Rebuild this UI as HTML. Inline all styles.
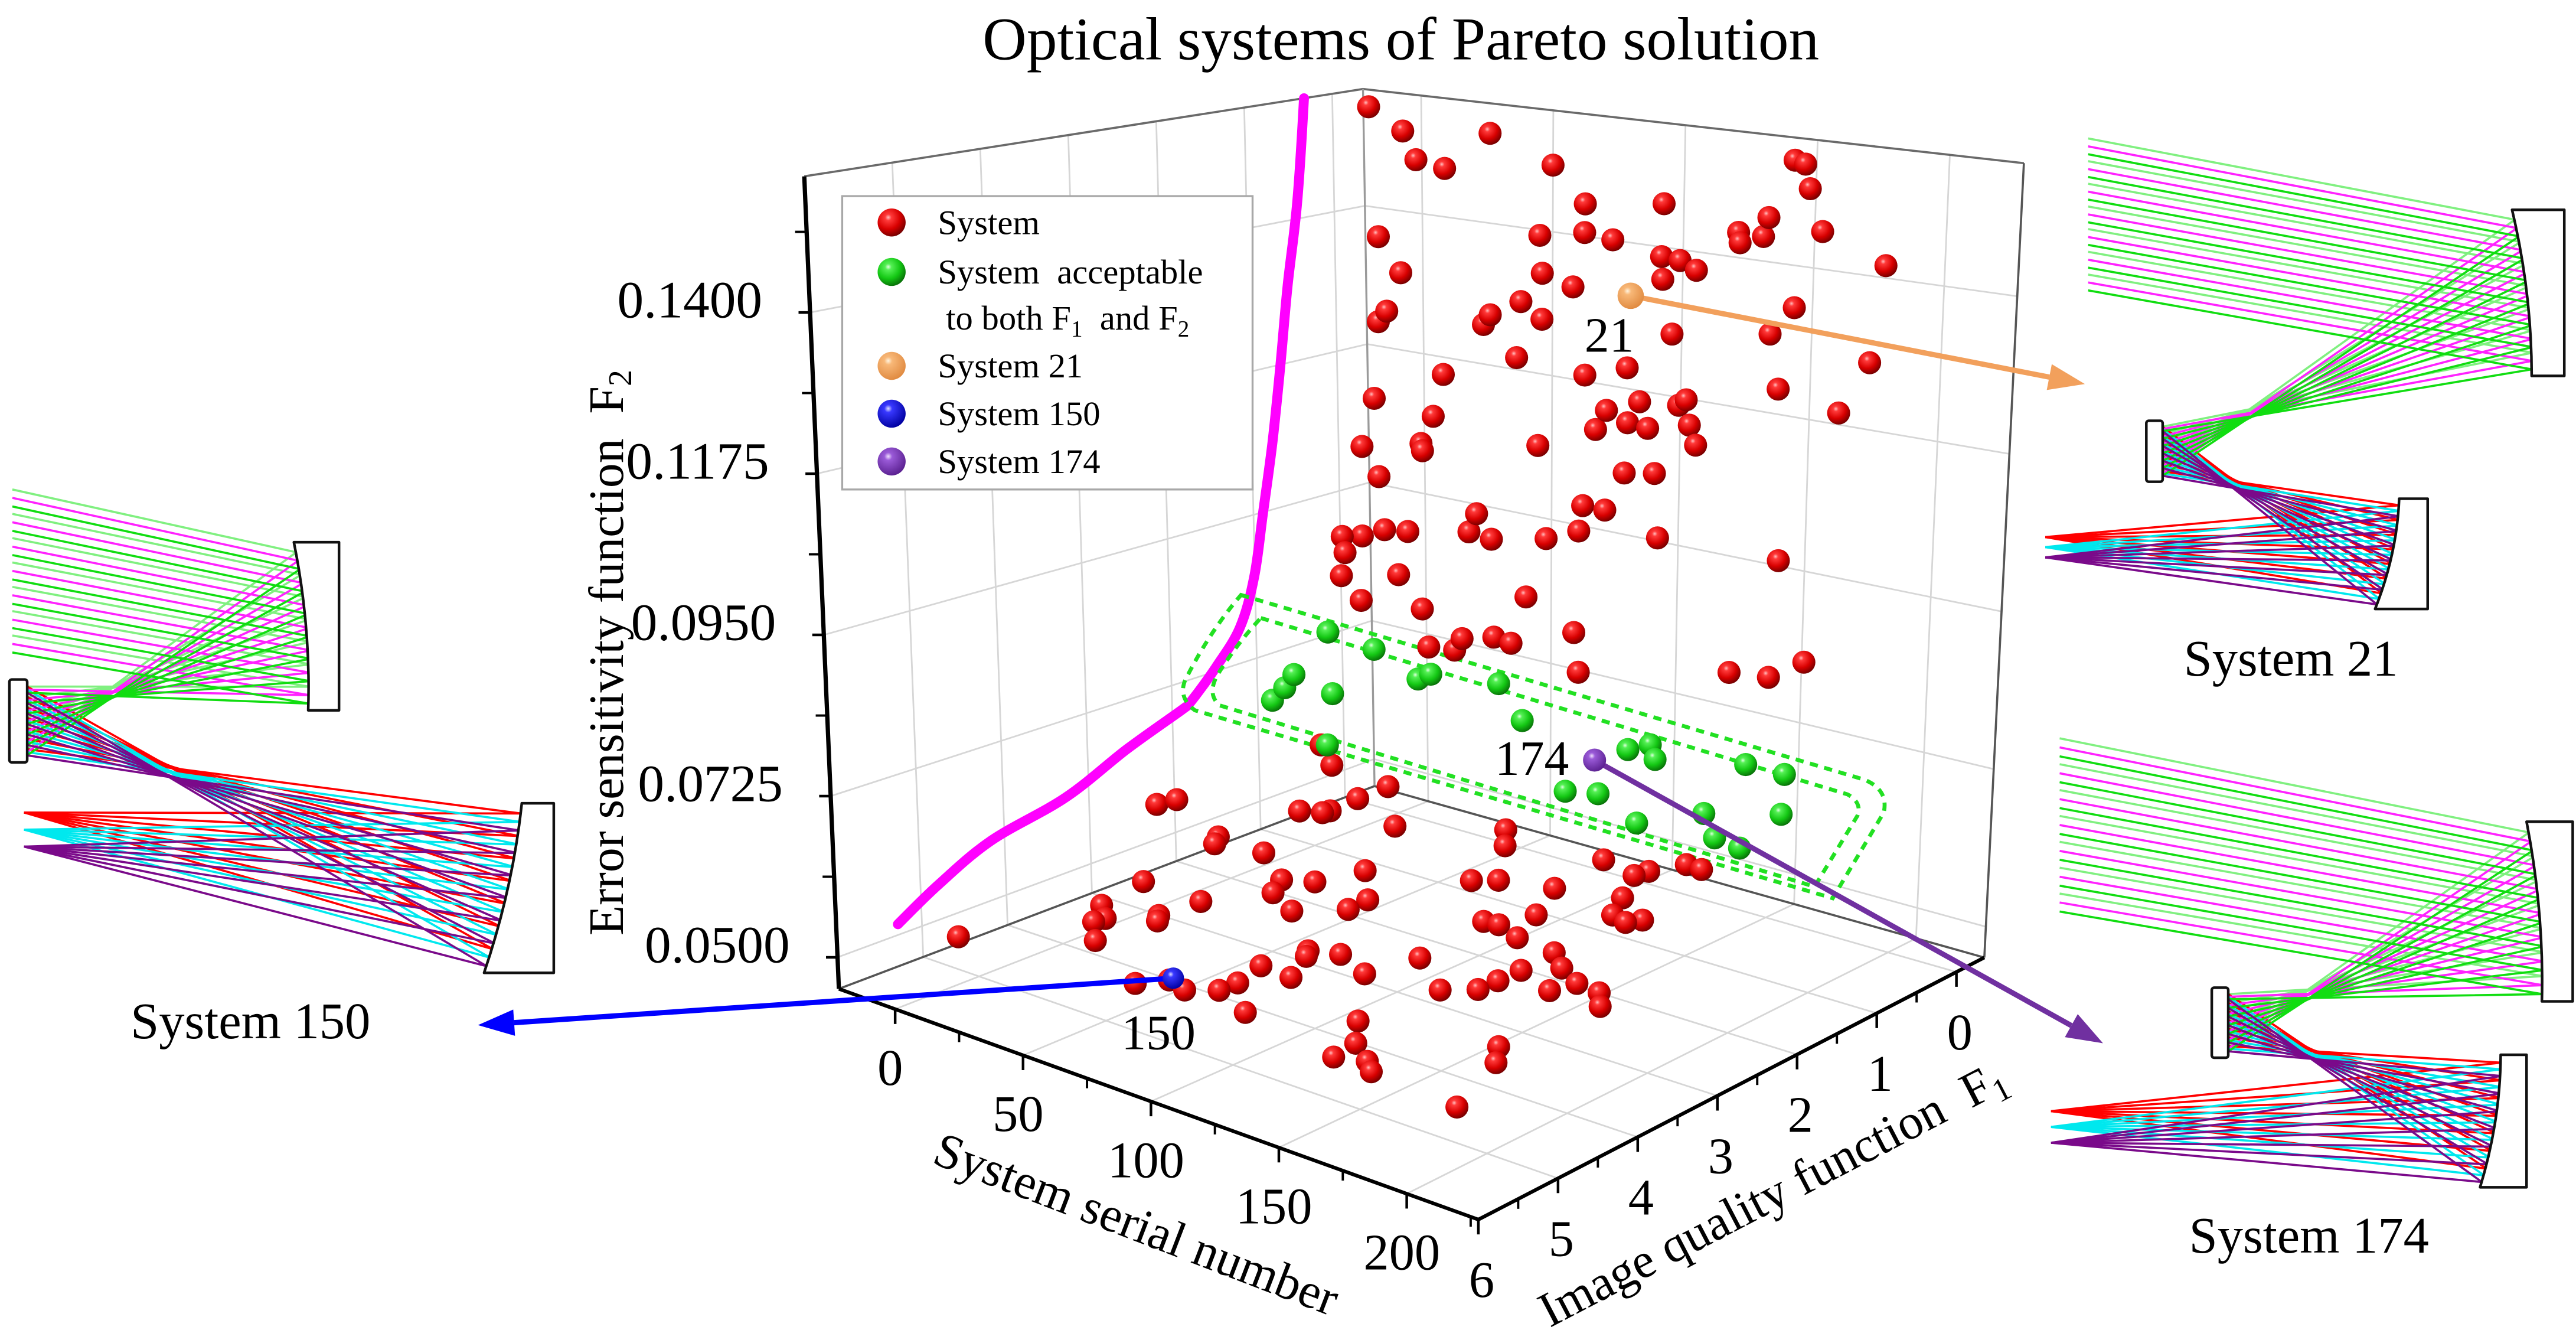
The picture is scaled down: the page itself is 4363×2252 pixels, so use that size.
<!DOCTYPE html>
<html lang="en">
<head>
<meta charset="utf-8">
<title>Optical systems of Pareto solution</title>
<style>
  html,body{margin:0;padding:0;background:#ffffff;}
  svg{display:block;}
  text{font-family:"Liberation Serif","Times New Roman",serif;fill:#000;}
</style>
</head>
<body>
<svg id="fig" xmlns="http://www.w3.org/2000/svg" width="4363" height="2252" viewBox="0 0 1563 807" preserveAspectRatio="none">
  <defs>
    <radialGradient id="gRed" cx="38%" cy="32%" r="70%">
      <stop offset="0" stop-color="#ffc0c0"/>
      <stop offset="0.16" stop-color="#ff3a3a"/>
      <stop offset="0.6" stop-color="#d80000"/>
      <stop offset="1" stop-color="#740000"/>
    </radialGradient>
    <radialGradient id="gGreen" cx="38%" cy="32%" r="70%">
      <stop offset="0" stop-color="#e0ffe0"/>
      <stop offset="0.16" stop-color="#55f055"/>
      <stop offset="0.6" stop-color="#14c814"/>
      <stop offset="1" stop-color="#087008"/>
    </radialGradient>
    <radialGradient id="gOrange" cx="38%" cy="32%" r="70%">
      <stop offset="0" stop-color="#fff4e0"/>
      <stop offset="0.2" stop-color="#f8b878"/>
      <stop offset="1" stop-color="#e08a40"/>
    </radialGradient>
    <radialGradient id="gBlue" cx="38%" cy="32%" r="70%">
      <stop offset="0" stop-color="#e0e0ff"/>
      <stop offset="0.2" stop-color="#3838ff"/>
      <stop offset="1" stop-color="#0000a0"/>
    </radialGradient>
    <radialGradient id="gPurple" cx="38%" cy="32%" r="70%">
      <stop offset="0" stop-color="#f0e0ff"/>
      <stop offset="0.2" stop-color="#9a5ad8"/>
      <stop offset="1" stop-color="#5a2090"/>
    </radialGradient>
  </defs>

  <text x="850" y="36" font-size="37" text-anchor="middle">Optical systems of Pareto solution</text>

  <g id="optics"></g>
  <g id="grid"></g>
  <g id="box"></g>
  <g id="axes"></g>
  <g id="curve"></g>
  <g id="annot">
    <path d="M753,361 L1131,473 Q1146,479 1143,493 L1112,545 L725,431 Q713,422 721,409 Q735,382 753,361 Z" fill="none" stroke="#22e022" stroke-width="2.4" stroke-dasharray="5,4"/>
    <path d="M765,375 L1121,482 Q1130,487 1127,495 L1101,538 L740,428 Q732,421 739,409 Q751,390 765,375 Z" fill="none" stroke="#22e022" stroke-width="2.4" stroke-dasharray="5,4"/>
  </g>
  <g id="points"></g>
  <g id="arrows"></g>

  <g id="legend">
    <rect x="511" y="119" width="249" height="178" fill="#ffffff" stroke="#a8a8a8" stroke-width="1.2"/>
    <g>
      <circle cx="541" cy="135" r="8.5" fill="url(#gRed)"/>
      <text x="569" y="142" font-size="21">System</text>
    </g>
    <g>
      <circle cx="541" cy="165" r="8.5" fill="url(#gGreen)"/>
      <text x="569" y="172" font-size="21" xml:space="preserve">System  acceptable</text>
      <text x="574" y="200" font-size="21" xml:space="preserve">to both F<tspan font-size="14" dy="4">1</tspan><tspan dy="-4" xml:space="preserve">  and F</tspan><tspan font-size="14" dy="4">2</tspan></text>
    </g>
    <g>
      <circle cx="541" cy="222" r="8.5" fill="url(#gOrange)"/>
      <text x="569" y="229" font-size="21">System 21</text>
    </g>
    <g>
      <circle cx="541" cy="251" r="8.5" fill="url(#gBlue)"/>
      <text x="569" y="258" font-size="21">System 150</text>
    </g>
    <g>
      <circle cx="541" cy="280" r="8.5" fill="url(#gPurple)"/>
      <text x="569" y="287" font-size="21">System 174</text>
    </g>
  </g>

  <text x="152" y="630" font-size="31" text-anchor="middle">System 150</text>
  <text x="1390" y="410" font-size="31" text-anchor="middle">System 21</text>
  <text x="1401" y="760" font-size="31" text-anchor="middle">System 174</text>
</svg>

<script>
// ---------------- chart data ----------------
const serialTicks = [0, 50, 100, 150, 200];
const serialTickLabels = ['0', '50', '100', '150', '200'];
const f1Ticks = [0, 1, 2, 3, 4, 5, 6];
const f1TickLabels = ['0', '1', '2', '3', '4', '5', '6'];
const f2Ticks = [0.05, 0.0725, 0.095, 0.1175, 0.14];
const f2TickLabels = ['0.0500', '0.0725', '0.0950', '0.1175', '0.1400'];

// Red systems: serial number, F1 (image quality), F2 (error sensitivity)
const redSerial = [
 -8.3,4.5,37.6,9.4,20.3,61.5,153,157,159,73.9,103.8,-5.3,56.6,73.7,84.5,132.3,133,143.7,141.8,164.2,
 188.7,3.2,57.6,69.4,103.2,110.3,116.6,103.8,-2.4,-5.7,37.6,35,49.4,57.6,154.3,107.7,145.3,183.8,47.8,19.3,
 74.3,90.6,149,-7.7,15.3,82.8,95.6,113.6,110.7,78.6,91,98.9,115,117.6,172.6,-12.8,10.4,11,56.2,-6.3,
 90,101.8,73.9,82.6,32.1,29.1,-4.3,-13.2,4.9,38,59.6,72.4,103.4,151,1,-14.1,10.4,51.7,70.8,26.2,
 38.9,45.8,12.8,23.2,72.7,132.7,148.4,162.2,12.8,13.8,12.3,
 -8.7,5,13,-9.9,-6.6,9.7,-0.4,4.0,11.5,12.1,22.1,22.0,24.8,23.4,10,21,-1.5,-1.2,-7.0,-0.1,
 -0.8,24.1,29.3,34.6,38,43.1,49.1,61,60.2,53.6,59.2,67.8,75.5,75.7,92.7,71.8,84.7,74.4,77,83.7,
 99.5,103.8,125.3,133.9,134,134.1,132.7,142.6,151.4,154.2,164.4,171.6,122.3,133,134.9,144.6,150.6,167.6,174.9,187.2,
 73.6,79.8,97.8,99.1,104.5,108,115.9,52.5,61.7,93.7,119.7,126.6,133.8,136.7,110.1,111.4,117,123.5
];
const redF1 = [
 0,0,0,0,0,0,0,0,0,0,0,0,0,0,0,0,0,0,0,0,
 0,0,0,0,0,0,0,0,0,0,0,0,0,0,0,0,0,0,0,0,
 0,0,0,0,0,0,0,0,0,0,0,0,0,0,0,0,0,0,0,0,
 0,0,0,0,0,0,0,0,0,0,0,0,0,0,0,0,0,0,0,0,
 0,0,0,0,0,0,0,0,1,1,1,
 4.97,3.0,3.0,1.85,1.99,1.89,3.02,3.65,3.97,3.85,4.27,3.51,3.61,3.05,1.2,1.4,0.08,0.45,0.97,0.81,
 0.88,0.75,2.26,2.52,2.12,1.67,2.73,2.41,2.15,4.75,4.51,4.59,4.41,4.19,4.62,3.79,3.82,3.30,3.40,3.19,
 3.38,2.84,3.25,3.05,2.81,2.53,2.08,2.29,2.71,2.46,2.50,2.71,4.16,4.52,4.85,4.74,4.88,3.84,4.10,4.97,
 1.30,1.16,1.02,1.92,1.90,1.55,2.02,0.26,0.54,0.30,0.85,1.18,1.24,1.12,0.42,0.28,-0.01,0.00
];
const redF2 = [
 .1576,.1544,.1557,.1501,.1493,.1520,.1572,.1568,.1533,.1467,.1483,.1370,.1409,.1423,.1418,.1455,.1440,.1483,.1454,.1473,
 .1436,.1318,.1351,.1337,.1403,.1401,.1390,.1369,.1253,.1234,.1274,.1257,.1302,.1280,.1356,.1289,.1312,.1293,.1214,.1168,
 .1205,.1227,.1233,.1110,.1099,.1157,.1179,.1194,.1184,.1125,.1144,.1141,.1157,.1129,.1213,.1029,.1052,.1041,.1084,.0986,
 .1067,.1075,.1005,.1005,.0959,.0928,.0903,.0885,.0908,.0924,.0943,.0965,.0979,.0982,.0836,.0781,.0790,.0846,.0808,.0758,
 .0772,.0769,.0732,.0737,.0749,.0802,.0808,.0842,.0947,.0923,.0886,
 .05,.0619,.0635,.05,.05,.05,.05,.05,.05,.05,.05,.05,.05,.05,.0632,.0622,.05,.05,.05,.05,
 .05,.05,.05,.05,.05,.05,.05,.05,.05,.05,.05,.05,.05,.05,.05,.05,.05,.05,.05,.05,
 .05,.05,.05,.05,.05,.05,.05,.05,.05,.05,.05,.05,.05,.05,.05,.05,.05,.05,.05,.05,
 .05,.05,.05,.05,.05,.05,.05,.05,.05,.05,.05,.05,.05,.05,.05,.05,.05,.05
];

// Green systems: acceptable to both F1 and F2
const greenSerial = [23.5,41.7,9.8,6,1.1,25,59,64,90.8,100.2,142,150.8,152.8,117.5,130.5,188.5,203.8,203,172.5,146,177,187,22.7];
const greenF1 = [1.5,1.5,1.5,1.5,1.5,1.5,1.5,1.5,1.5,1.5,1.5,1.5,1.5,1.5,1.5,1.5,1.5,1.5,1.5,1.5,1.5,1.5,1.5];
const greenF2 = [.0831,.0822,.0753,.0729,.0705,.0739,.0794,.0806,.0817,.0772,.0769,.0784,.0765,.0686,.0695,.0790,.0790,.0734,.0707,.0668,.0677,.0672,.0659];

// Highlighted systems
const specialNames = ['System 21', 'System 150', 'System 174'];
const specialLabels = ['21', '150', '174'];
const specialSerial = [91.6, 59.1, 174];
const specialF1 = [0, 4.46, 2.9];
const specialF2 = [.1337, .05, .0848];

// Pareto front projected on the serial-number wall (F1 vs F2)
const frontF1 = [0.32,0.42,0.55,0.65,0.76,0.89,1.01,1.19,1.48,1.78,1.89,2.55,3.27,4.16,4.79,5.28];
const frontF2 = [.1590,.1427,.1298,.1177,.1058,.0948,.0852,.0780,.0731,.0691,.0683,.0651,.0611,.0586,.0550,.0515];

// ---------------- axis functions ----------------
const S0 = -22, S1 = 228, FA = -0.35, FB = 6, Z0 = 0.0456, Z1 = 0.159;
const cB = [834, 477], cR = [1204, 581], cL = [509, 600], cF = [897, 740];
const oB = [-7, -423], oR = [24, -482], oL = [-21, -493], oF = [3, -553];
function bil(a, b, c, d, u, v) { return a*(1-u)*(1-v) + b*u*(1-v) + c*(1-u)*v + d*u*v; }
function proj(s, f, z) {
  const u = (s - S0) / (S1 - S0);
  const v = (f - FA) / (FB - FA);
  const w = (z - Z0) / (Z1 - Z0);
  const x = bil(cB[0], cR[0], cL[0], cF[0], u, v) + w * bil(oB[0], oR[0], oL[0], oF[0], u, v);
  const y = bil(cB[1], cR[1], cL[1], cF[1], u, v) + w * bil(oB[1], oR[1], oL[1], oF[1], u, v);
  return [x, y, u + v];
}

const NS = 'http://www.w3.org/2000/svg';
function mk(tag, attrs, parent) {
  const el = document.createElementNS(NS, tag);
  for (const k in attrs) el.setAttribute(k, attrs[k]);
  parent.appendChild(el);
  return el;
}
function line3(g, a, b, stroke, sw, name) {
  const p = proj(a[0], a[1], a[2]), q = proj(b[0], b[1], b[2]);
  const el = mk('line', {x1: p[0], y1: p[1], x2: q[0], y2: q[1], stroke: stroke, 'stroke-width': sw}, g);
  
  
  return el;
}

// ---------------- grid ----------------
const grid = document.getElementById('grid');
const gc = '#d6d6d6';
serialTicks.forEach(s => {
  line3(grid, [s, FA, Z0], [s, FB, Z0], gc, 1, 'floor-grid-serial');
  line3(grid, [s, FA, Z0], [s, FA, Z1], gc, 1, 'back-wall-grid-serial');
});
f1Ticks.forEach(f => {
  line3(grid, [S0, f, Z0], [S1, f, Z0], gc, 1, 'floor-grid-f1');
  line3(grid, [S0, f, Z0], [S0, f, Z1], gc, 1, 'side-wall-grid-f1');
});
f2Ticks.forEach(z => {
  line3(grid, [S0, FA, z], [S0, FB, z], gc, 1, 'side-wall-grid-f2');
  line3(grid, [S0, FA, z], [S1, FA, z], gc, 1, 'back-wall-grid-f2');
});

// ---------------- box edges ----------------
const box = document.getElementById('box');
line3(box, [S0, FB, Z1], [S0, FA, Z1], '#6a6a6a', 1.3, 'side-wall-top-edge');
line3(box, [S0, FA, Z1], [S1, FA, Z1], '#6a6a6a', 1.3, 'back-wall-top-edge');
line3(box, [S0, FA, Z0], [S0, FA, Z1], '#9a9a9a', 1.2, 'back-corner-edge');
line3(box, [S1, FA, Z0], [S1, FA, Z1], '#555555', 1.3, 'right-wall-edge');
line3(box, [S0, FB, Z0], [S0, FA, Z0], '#555555', 1.3, 'floor-back-left-edge');
line3(box, [S0, FA, Z0], [S1, FA, Z0], '#555555', 1.3, 'floor-back-right-edge');

// ---------------- axes ----------------
const axes = document.getElementById('axes');
line3(axes, [S0, FB, Z0], [S0, FB, Z1], '#000', 2.6, 'f2-axis-line');
line3(axes, [S0, FB, Z0], [S1, FB, Z0], '#000', 2.2, 'serial-axis-line');
line3(axes, [S1, FB, Z0], [S1, FA, Z0], '#000', 2.2, 'f1-axis-line');

for (let i = 0; i < f2Ticks.length; i++) {
  const z = f2Ticks[i];
  const p = proj(S0, FB, z);
  const t = mk('line', {x1: p[0] - 7, y1: p[1], x2: p[0], y2: p[1], stroke: '#000', 'stroke-width': 1.6}, axes);
  
  
  const lab = mk('text', {x: p[0] - 29, y: p[1] + 3, 'font-size': 32, 'text-anchor': 'end'}, axes);
  lab.textContent = f2TickLabels[i];
  
  
  const zm = z + (f2Ticks[1] - f2Ticks[0]) / 2;
  if (zm < Z1) {
    const q = proj(S0, FB, zm);
    const m = mk('line', {x1: q[0] - 7, y1: q[1], x2: q[0], y2: q[1], stroke: '#000', 'stroke-width': 1.4}, axes);
    
    
  }
}
for (let i = 0; i < serialTicks.length; i++) {
  const s = serialTicks[i];
  const p = proj(s, FB, Z0);
  const t = mk('line', {x1: p[0], y1: p[1], x2: p[0], y2: p[1] + 9, stroke: '#000', 'stroke-width': 1.6}, axes);
  
  
  const lab = mk('text', {x: p[0] - 3, y: p[1] + 46, 'font-size': 31, 'text-anchor': 'middle'}, axes);
  lab.textContent = serialTickLabels[i];
  
  
  const sm = s + (serialTicks[1] - serialTicks[0]) / 2;
  if (sm < S1) {
    const q = proj(sm, FB, Z0);
    const m = mk('line', {x1: q[0], y1: q[1], x2: q[0], y2: q[1] + 6, stroke: '#000', 'stroke-width': 1.4}, axes);
    
    
  }
}
for (let i = 0; i < f1Ticks.length; i++) {
  const f = f1Ticks[i];
  const p = proj(S1, f, Z0);
  const t = mk('line', {x1: p[0], y1: p[1], x2: p[0], y2: p[1] + 9, stroke: '#000', 'stroke-width': 1.6}, axes);
  
  
  const lab = mk('text', {x: p[0] + 2, y: p[1] + 47, 'font-size': 31, 'text-anchor': 'middle'}, axes);
  lab.textContent = f1TickLabels[i];
  
  
  const fm = f - 0.5;
  if (fm > FA) {
    const q = proj(S1, fm, Z0);
    const m = mk('line', {x1: q[0], y1: q[1], x2: q[0], y2: q[1] + 6, stroke: '#000', 'stroke-width': 1.4}, axes);
    
    
  }
}
const t2 = mk('text', {x: 0, y: 0, 'font-size': 30, 'text-anchor': 'middle', transform: 'translate(378,396) rotate(-90)'}, axes);
t2.innerHTML = 'Error sensitivity function&#160;&#160;F<tspan font-size="20" dy="5">2</tspan>';


const ts = mk('text', {x: 0, y: 0, 'font-size': 30, 'text-anchor': 'middle', transform: 'translate(686,752) rotate(21)'}, axes);
ts.textContent = 'System serial number';


const t1 = mk('text', {x: 0, y: 0, 'font-size': 30, 'text-anchor': 'middle', transform: 'translate(1080,733) rotate(-27.5)'}, axes);
t1.innerHTML = 'Image quality function&#160;&#160;F<tspan font-size="20" dy="5">1</tspan>';



// ---------------- Pareto front curve (smooth Catmull-Rom) ----------------
const curveG = document.getElementById('curve');
const cpts = frontF1.map((f, i) => proj(S0, f, frontF2[i]));
let cd = 'M' + cpts[0][0].toFixed(1) + ',' + cpts[0][1].toFixed(1);
for (let i = 0; i < cpts.length - 1; i++) {
  const p0 = cpts[Math.max(0, i - 1)], p1 = cpts[i], p2 = cpts[i + 1], p3 = cpts[Math.min(cpts.length - 1, i + 2)];
  const c1x = p1[0] + (p2[0] - p0[0]) / 6, c1y = p1[1] + (p2[1] - p0[1]) / 6;
  const c2x = p2[0] - (p3[0] - p1[0]) / 6, c2y = p2[1] - (p3[1] - p1[1]) / 6;
  cd += ' C' + c1x.toFixed(1) + ',' + c1y.toFixed(1) + ' ' + c2x.toFixed(1) + ',' + c2y.toFixed(1) + ' ' + p2[0].toFixed(1) + ',' + p2[1].toFixed(1);
}
const cpath = mk('path', {d: cd, fill: 'none', stroke: '#ff00ff', 'stroke-width': 6, 'stroke-linecap': 'round', 'stroke-linejoin': 'round'}, curveG);



// ---------------- points ----------------
const ptsG = document.getElementById('points');
const all = [];
redSerial.forEach((s, i) => { const p = proj(s, redF1[i], redF2[i]); all.push({p: p, fill: 'url(#gRed)', r: 7, kind: 'red-system-point'}); });
greenSerial.forEach((s, i) => { const p = proj(s, greenF1[i], greenF2[i]); all.push({p: p, fill: 'url(#gGreen)', r: 7, kind: 'acceptable-system-point'}); });
all.sort((a, b) => a.p[2] - b.p[2]);
all.forEach(o => {
  const c = mk('circle', {cx: o.p[0].toFixed(1), cy: o.p[1].toFixed(1), r: o.r, fill: o.fill}, ptsG);
  
  
});

// ---------------- highlighted systems & arrows ----------------
const arrG = document.getElementById('arrows');
const spFill = ['url(#gOrange)', 'url(#gBlue)', 'url(#gPurple)'];
const spColor = ['#f2a05c', '#0000ff', '#7030a0'];
const spTarget = [[1265, 233], [290, 622], [1276, 633]];
const spLabelOff = [[-13, 34], [-9, 43], [-38, 9]];
const spRadius = [8, 6.5, 7];
for (let i = 0; i < specialSerial.length; i++) {
  const p = proj(specialSerial[i], specialF1[i], specialF2[i]);
  const tx = spTarget[i][0], ty = spTarget[i][1];
  const dx = tx - p[0], dy = ty - p[1], len = Math.hypot(dx, dy);
  const ux = dx / len, uy = dy / len;
  const hx = tx - ux * 22, hy = ty - uy * 22;
  const ln = mk('line', {x1: p[0], y1: p[1], x2: hx, y2: hy, stroke: spColor[i], 'stroke-width': 3.2}, arrG);
  
  
  const hd = mk('polygon', {points: [tx, ty, hx - uy * 8, hy + ux * 8, hx + uy * 8, hy - ux * 8].join(','), fill: spColor[i]}, arrG);
  
  
  const c = mk('circle', {cx: p[0], cy: p[1], r: spRadius[i], fill: spFill[i]}, arrG);
  
  
  const tl = mk('text', {x: p[0] + spLabelOff[i][0], y: p[1] + spLabelOff[i][1], 'font-size': 30, 'text-anchor': 'middle'}, arrG);
  tl.textContent = specialLabels[i];
  
  
}

// ---------------- optical layout diagrams ----------------
const optG = document.getElementById('optics');
function lerp(a, b, t) { return [a[0] + (b[0] - a[0]) * t, a[1] + (b[1] - a[1]) * t]; }
function facePt(top, bot, t, bulge) {
  const p = lerp(top, bot, t);
  return [p[0] + bulge * Math.sin(Math.PI * t), p[1]];
}
function mirror(g, top, bot, xr, bulge, name) {
  const mx = (top[0] + bot[0]) / 2 + bulge * 2, my = (top[1] + bot[1]) / 2;
  const d = 'M' + top[0] + ',' + top[1] + ' Q' + mx + ',' + my + ' ' + bot[0] + ',' + bot[1] + ' L' + xr + ',' + bot[1] + ' L' + xr + ',' + top[1] + ' Z';
  const el = mk('path', {d: d, fill: '#ffffff', stroke: '#111', 'stroke-width': 1.6, 'stroke-linejoin': 'round'}, g);
  
  
}
function optics(c, name) {
  const g = mk('g', {}, optG);
  
  
  const inCol = ['#80f080', '#ff22ff', '#11dd11'];
  const outCol = ['#ff0000', '#00e8ee', '#7a0a8a'];
  const n = 7;
  for (let k = 0; k < 3; k++) {
    for (let i = 0; i < n; i++) {
      const t = i / (n - 1);
      const yin = c.inY[0] + (c.inY[1] - c.inY[0]) * (t * 0.86 + k * 0.05);
      const pp = facePt(c.P[0], c.P[1], 0.06 + t * 0.8 + k * 0.05, 5);
      const sp = [c.S.x, c.S.y0 + (c.S.y1 - c.S.y0) * (0.05 + (1 - t) * 0.82 + k * 0.04)];
      const tp = facePt(c.T[0], c.T[1], 0.06 + t * 0.8 + k * 0.05, 5);
      const fp = [c.focus[0], c.focus[1 + k]];
      const d1 = 'M' + c.inX + ',' + yin.toFixed(1) + ' L' + pp[0].toFixed(1) + ',' + pp[1].toFixed(1) + ' L' + sp[0] + ',' + sp[1].toFixed(1);
      const r1 = mk('path', {d: d1, fill: 'none', stroke: inCol[k], 'stroke-width': 1.3}, g);
      
      
      const d2 = 'M' + sp[0] + ',' + sp[1].toFixed(1) + ' L' + tp[0].toFixed(1) + ',' + tp[1].toFixed(1) + ' L' + fp[0] + ',' + fp[1];
      const r2 = mk('path', {d: d2, fill: 'none', stroke: outCol[k], 'stroke-width': 1.3}, g);
      
      
    }
  }
  mirror(g, c.P[0], c.P[1], c.Pr, 3, 'primary-mirror');
  const s = mk('rect', {x: c.S.xl, y: c.S.y0 - 2, width: c.S.x - c.S.xl, height: c.S.y1 - c.S.y0 + 4, rx: 1.5, fill: '#ffffff', stroke: '#111', 'stroke-width': 1.6}, g);
  
  
  mirror(g, c.T[0], c.T[1], c.Tr, 3, 'tertiary-mirror');
}
optics({inX: 7.5, inY: [297, 400], P: [[178.3, 329], [187, 431]], Pr: 205.7,
        S: {xl: 5.7, x: 16.5, y0: 414.3, y1: 460.6}, T: [[316.6, 487.4], [293.7, 590.3]], Tr: 336,
        focus: [14.6, 493, 503.4, 513.7]}, 'system-150-diagram');
optics({inX: 1267, inY: [84, 180], P: [[1524.2, 127.3], [1536.1, 228.1]], Pr: 1555.9,
        S: {xl: 1302.3, x: 1312.2, y0: 257.3, y1: 290.3}, T: [[1455.7, 302.6], [1441.1, 369.5]], Tr: 1473,
        focus: [1241, 325.9, 332, 338.2]}, 'system-21-diagram');
optics({inX: 1249.7, inY: [448, 557.5], P: [[1533, 498.6], [1542.3, 607.6]], Pr: 1561,
        S: {xl: 1342, x: 1352, y0: 601.3, y1: 639.8}, T: [[1517.3, 640], [1504.8, 720.4]], Tr: 1533,
        focus: [1244.5, 674.2, 683.8, 693.4]}, 'system-174-diagram');
</script>
</body>
</html>
